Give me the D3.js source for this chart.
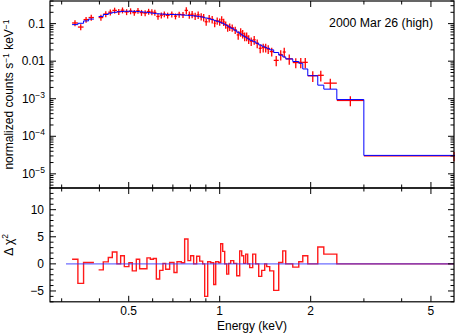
<!DOCTYPE html>
<html><head><meta charset="utf-8">
<script src="https://cdn.jsdelivr.net/npm/d3@7"></script>
<style>
body{margin:0;background:#fff}
svg{display:block}
text{font-family:"Liberation Sans",Arial,Helvetica,sans-serif;fill:#000}
</style>
</head><body>
<svg id="c" width="456" height="333"></svg>
<script>
// ---- data ----
const binLo = [0.3248,0.3395,0.3545,0.3683,0.3975,0.4119,0.4280,0.4413,0.4570,0.4702,0.4836,0.5007,0.5138,0.5298,0.5434,0.5590,0.5745,0.5896,0.6033,0.6172,0.6329,0.6491,0.6625,0.6830,0.7059,0.7223,0.7466,0.7657,0.7853,0.8015,0.8201,0.8391,0.8587,0.8785,0.8919,0.9126,0.9337,0.9552,0.9701,0.9924,1.0076,1.0231,1.0389,1.0548,1.0710,1.0875,1.1127,1.1384,1.1645,1.1824,1.2006,1.2191,1.2378,1.2569,1.2860,1.3157,1.3461,1.3772,1.4091,1.4307,1.4640,1.5092,1.5679,1.6166,1.6539,1.7449,1.8267,1.8831,1.9563,2.1112,2.2103,2.4408,2.9991];
const binHi = [0.3395,0.3545,0.3683,0.3836,0.4119,0.4280,0.4413,0.4570,0.4702,0.4836,0.5007,0.5138,0.5298,0.5434,0.5590,0.5745,0.5896,0.6033,0.6172,0.6329,0.6491,0.6625,0.6830,0.7059,0.7223,0.7466,0.7657,0.7853,0.8015,0.8201,0.8391,0.8587,0.8785,0.8919,0.9126,0.9337,0.9552,0.9701,0.9924,1.0076,1.0231,1.0389,1.0548,1.0710,1.0875,1.1127,1.1384,1.1645,1.1824,1.2006,1.2191,1.2378,1.2569,1.2860,1.3157,1.3461,1.3772,1.4091,1.4307,1.4640,1.5092,1.5679,1.6166,1.6539,1.7449,1.8267,1.8831,1.9563,2.1112,2.2103,2.4408,2.9991,12.0];
const counts = [0.104,0.081,0.128,0.145,0.145,0.180,0.202,0.225,0.207,0.228,0.205,0.216,0.196,0.222,0.196,0.191,0.210,0.203,0.198,0.155,0.168,0.179,0.166,0.178,0.158,0.176,0.172,0.225,0.172,0.178,0.160,0.171,0.155,0.147,0.112,0.138,0.130,0.102,0.119,0.112,0.128,0.111,0.093,0.078,0.082,0.078,0.068,0.050,0.060,0.054,0.046,0.046,0.039,0.034,0.037,0.030,0.022,0.023,0.023,0.021,0.018,0.0105,0.015,0.0175,0.0115,0.0092,0.0093,0.0093,0.0041,0.0042,0.0026,0.00090,0.000030];
const countErr = [0.18,0.18,0.18,0.18,0.18,0.18,0.18,0.18,0.18,0.18,0.18,0.18,0.18,0.18,0.18,0.18,0.18,0.18,0.18,0.18,0.18,0.18,0.18,0.18,0.18,0.18,0.18,0.22,0.22,0.22,0.22,0.22,0.22,0.22,0.22,0.22,0.22,0.22,0.22,0.22,0.22,0.22,0.22,0.22,0.22,0.22,0.22,0.26,0.26,0.26,0.26,0.26,0.26,0.26,0.26,0.26,0.26,0.26,0.26,0.26,0.26,0.30,0.30,0.30,0.30,0.30,0.30,0.30,0.32,0.32,0.30,0.30,0.28];
const model = [0.094,0.102,0.118,0.132,0.155,0.175,0.190,0.200,0.207,0.211,0.213,0.213,0.212,0.210,0.206,0.201,0.196,0.191,0.187,0.183,0.180,0.178,0.176,0.175,0.174,0.172,0.170,0.167,0.165,0.163,0.160,0.156,0.151,0.147,0.141,0.135,0.128,0.122,0.116,0.110,0.105,0.099,0.093,0.087,0.081,0.075,0.067,0.059,0.053,0.049,0.045,0.042,0.039,0.036,0.033,0.030,0.027,0.025,0.023,0.022,0.020,0.017,0.0145,0.013,0.0115,0.0098,0.0088,0.0062,0.0041,0.0023,0.0018,0.00095,0.000031];
const delchi = [0.86,-3.6,0.25,0.25,-1.1,0.37,1.17,2.2,0,1.5,-0.5,0.2,-1.3,0.86,-0.9,-0.9,1.1,0.86,1.0,-2.8,-1.2,0.1,-1.0,0.25,-1.6,0.4,0.2,4.6,0.6,1.5,0,1.4,0.5,0,-6.0,0.4,0.2,-3.8,0.4,0.2,3.7,2.3,0,-1.9,0.1,0.6,0.1,-2.2,2.4,1.5,0.1,1.8,0,-0.7,1.8,0,-2.3,-1.2,0,-0.5,-1.3,-4.9,0.25,2.4,0,-0.6,0.4,1.5,0,3.1,1.8,0,0];
const xMajorTicks = [0.5,1,2,5];
const xMinorTicks = [0.3,0.4,0.6,0.7,0.8,0.9,3,4];
const yTopLabels = [[0.1,"0.1",null],[0.01,"0.01",null],[1e-3,"10","−3"],[1e-4,"10","−4"],[1e-5,"10","−5"]];
const yBotMajor = [-5,0,5,10];
const title = "2000 Mar 26 (high)";

// ---- layout ----
const L=50,R=454,T1=1,B1=188,T2=188,B2=301.8;
const svg=d3.select("#c");
const x=d3.scaleLog().domain([0.2745,5.96]).range([L,R]);
const y1=d3.scaleLog().domain([4.2e-6,0.4]).range([B1,T1]);
const y2=d3.scaleLinear().domain([-7,14]).range([B2,T2]);

const defs=svg.append("defs");
defs.append("clipPath").attr("id","cp1").append("rect").attr("x",L).attr("y",T1).attr("width",R-L+1).attr("height",B1-T1);
defs.append("clipPath").attr("id","cp2").append("rect").attr("x",L).attr("y",T2).attr("width",R-L).attr("height",B2-T2);

const bins=binLo.map((lo,i)=>({lo,hi:binHi[i],c:counts[i],e:countErr[i],m:model[i],r:delchi[i]}));
const segs=[];let cur=[];
bins.forEach((b,i)=>{ if(i>0 && Math.abs(b.lo-bins[i-1].hi)>1e-6){segs.push(cur);cur=[];} cur.push(b);});
segs.push(cur);
function stepPts(seg,key){const p=[];seg.forEach(b=>{p.push([b.lo,b[key]]);p.push([b.hi,b[key]]);});return p;}

// ---- top panel ----
const g1=svg.append("g").attr("clip-path","url(#cp1)");
bins.forEach(b=>{
  const yc=y1(b.c);
  g1.append("line").attr("x1",x(b.lo)).attr("x2",x(b.hi)).attr("y1",yc).attr("y2",yc).attr("stroke","#ff0000").attr("stroke-width",1.3);
  const xc=Math.min(x(Math.sqrt(b.lo*b.hi)),R);
  g1.append("line").attr("x1",xc).attr("x2",xc).attr("y1",y1(b.c*(1-b.e))).attr("y2",y1(b.c*(1+b.e))).attr("stroke","#ff0000").attr("stroke-width",1.3);
});
const line1=d3.line().x(d=>x(d[0])).y(d=>y1(d[1]));
segs.forEach(s=>{
  g1.append("path").attr("d",line1(stepPts(s,"m"))).attr("fill","none").attr("stroke","#0000ff").attr("stroke-width",1);
});

// ---- bottom panel ----
const g2=svg.append("g").attr("clip-path","url(#cp2)");
const line2=d3.line().x(d=>x(d[0])).y(d=>y2(d[1]));
segs.forEach(s=>{
  g2.append("path").attr("d",line2(stepPts(s,"r"))).attr("fill","none").attr("stroke","#ff1a1a").attr("stroke-width",1.4);
});
g2.append("line").attr("x1",x(0.31)).attr("x2",R).attr("y1",y2(0)).attr("y2",y2(0)).attr("stroke","#3030ff").attr("stroke-width",1.4).attr("opacity",0.7);

// ---- axes / ticks ----
const ax=svg.append("g").attr("stroke","#000").attr("stroke-width",1);
function tick(x1,y1_,x2,y2_){ax.append("line").attr("x1",x1).attr("y1",y1_).attr("x2",x2).attr("y2",y2_);}
const MJ=6,MN=3.5;
[[T1,1],[B1,-1],[T2,1],[B2,-1]].forEach(([yy,dir])=>{
  xMajorTicks.forEach(v=>tick(x(v),yy,x(v),yy+dir*MJ));
  xMinorTicks.forEach(v=>tick(x(v),yy,x(v),yy+dir*MN));
});
for(let k=-6;k<=0;k++){
  for(let m=1;m<=9;m++){
    const v=m*Math.pow(10,k);
    if(v<4.2e-6||v>0.4) continue;
    const len=m===1?MJ:MN;
    const yy=y1(v);
    tick(L,yy,L+len,yy); tick(R,yy,R-len,yy);
  }
}
for(let v=-7;v<=14;v++){
  const len=(v%5===0)?MJ:MN; const yy=y2(v);
  tick(L,yy,L+len,yy); tick(R,yy,R-len,yy);
}
svg.append("rect").attr("x",L).attr("y",T1).attr("width",R-L).attr("height",B1-T1).attr("fill","none").attr("stroke","#000").attr("stroke-width",1.2);
svg.append("rect").attr("x",L).attr("y",T2).attr("width",R-L).attr("height",B2-T2).attr("fill","none").attr("stroke","#000").attr("stroke-width",1.2);

// ---- labels ----
const FS=12;
xMajorTicks.forEach(v=>{
  svg.append("text").attr("x",x(v)).attr("y",315).attr("text-anchor","middle").attr("font-size",FS).text(String(v));
});
yTopLabels.forEach(([v,base,sup])=>{
  const t=svg.append("text").attr("x",45).attr("y",y1(v)+4.2).attr("text-anchor","end").attr("font-size",FS);
  t.append("tspan").text(base);
  if(sup) t.append("tspan").attr("font-size",8.5).attr("dy",-5).text(sup);
});
yBotMajor.forEach(v=>{
  svg.append("text").attr("x",44).attr("y",y2(v)+4.2).attr("text-anchor","end").attr("font-size",FS).text(v<0?"−"+Math.abs(v):String(v));
});
svg.append("text").attr("x",(L+R)/2).attr("y",330).attr("text-anchor","middle").attr("font-size",FS).text("Energy (keV)");
svg.append("text").attr("x",433).attr("y",27).attr("text-anchor","end").attr("font-size",12.3).text(title);
const yl=svg.append("text").attr("transform",`translate(13,${(T1+B1)/2}) rotate(-90)`).attr("text-anchor","middle").attr("font-size",FS);
yl.append("tspan").text("normalized counts s");
yl.append("tspan").attr("font-size",8.5).attr("dy",-4.5).text("−1");
yl.append("tspan").attr("dy",4.5).text(" keV");
yl.append("tspan").attr("font-size",8.5).attr("dy",-4.5).text("−1");
const yl2=svg.append("text").attr("transform",`translate(13,${(T2+B2)/2}) rotate(-90)`).attr("text-anchor","middle").attr("font-size",FS);
yl2.append("tspan").text("Δ χ");
yl2.append("tspan").attr("font-size",8.5).attr("dy",-5).text("2");
</script>
</body></html>
